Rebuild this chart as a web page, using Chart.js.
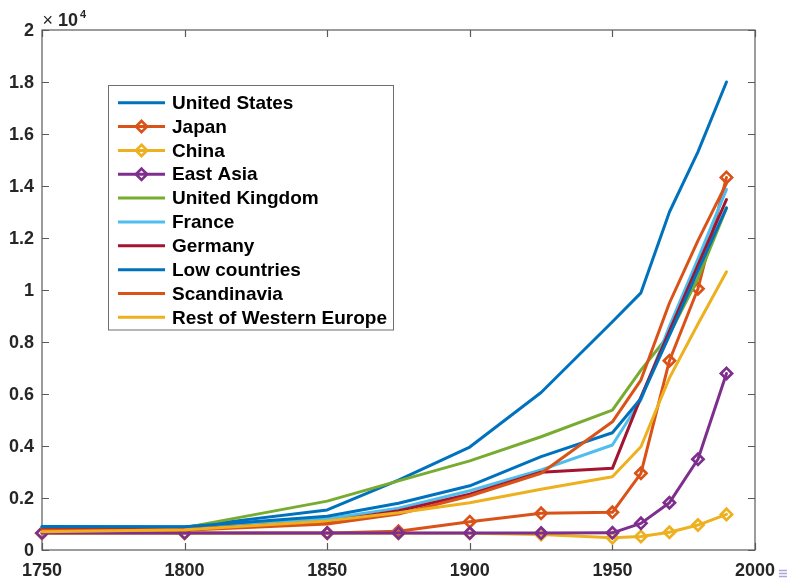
<!DOCTYPE html>
<html>
<head>
<meta charset="utf-8">
<script src="https://cdn.jsdelivr.net/npm/chart.js@4.4.1/dist/chart.umd.min.js"></script>
<style>
  html, body { margin: 0; padding: 0; background: #ffffff; }
  #wrap { width: 789px; height: 579px; position: relative; }
  canvas { display: block; }
</style>
</head>
<body>
<div id="wrap"><canvas id="chart" width="789" height="579"></canvas></div>
<script>
// GDP per capita by region, sampled years
const years = [1750, 1800, 1850, 1875, 1900, 1925, 1950, 1960, 1970, 1980, 1990];

const seriesNames = [
  'United States', 'Japan', 'China', 'East Asia', 'United Kingdom',
  'France', 'Germany', 'Low countries', 'Scandinavia', 'Rest of Western Europe'
];

const unitedStates   = [880, 880, 1540, 2690, 3960, 6060, 8780, 9890, 13000, 15310, 18000];
const japan          = [650, 650, 650, 720, 1090, 1410, 1450, 2950, 7280, 10050, 14330];
const china          = [640, 640, 640, 640, 640, 600, 470, 520, 680, 960, 1370];
const eastAsia       = [650, 650, 650, 650, 650, 650, 660, 1025, 1820, 3490, 6790];
const unitedKingdom  = [840, 860, 1880, 2660, 3430, 4355, 5380, 6920, 8300, 10450, 13150];
const france         = [870, 870, 1200, 1610, 2280, 3080, 4040, 5770, 8600, 11200, 13870];
const germany        = [790, 800, 1090, 1510, 2150, 2990, 3140, 5880, 8420, 10960, 13480];
const lowCountries   = [900, 890, 1300, 1800, 2470, 3590, 4510, 5830, 8250, 10740, 13160];
const scandinavia    = [770, 760, 1000, 1380, 2075, 2950, 4930, 6535, 9500, 11900, 14100];
const restOfWestEur  = [700, 780, 1120, 1430, 1820, 2340, 2820, 3970, 6620, 8690, 10700];

const seriesValues = [
  unitedStates, japan, china, eastAsia, unitedKingdom,
  france, germany, lowCountries, scandinavia, restOfWestEur
];

const xTickLabels = ['1750', '1800', '1850', '1900', '1950', '2000'];
const yTickLabels = ['0', '0.2', '0.4', '0.6', '0.8', '1', '1.2', '1.4', '1.6', '1.8', '2'];

// styling
const lineColors = ['#0072BD', '#D95319', '#EDB120', '#7E2F8E', '#77AC30',
                    '#4DBEEE', '#A2142F', '#0072BD', '#D95319', '#EDB120'];
const withMarkers = [false, true, true, true, false, false, false, false, false, false];

const FONT = '"Liberation Sans", Arial, Helvetica, sans-serif';
const AXIS_COLOR = '#262626';
const LINE_W = 3;
const MARK_R = 5.6;
const MARK_W = 2.7;

const datasets = seriesNames.map((name, i) => ({
  label: name,
  data: years.map((yr, k) => ({ x: yr, y: seriesValues[i][k] })),
  borderColor: lineColors[i],
  backgroundColor: 'rgba(0,0,0,0)',
  borderWidth: LINE_W,
  borderJoinStyle: 'round',
  borderCapStyle: 'round',
  tension: 0,
  pointStyle: 'rectRot',
  pointRadius: withMarkers[i] ? MARK_R : 0,
  pointHoverRadius: withMarkers[i] ? MARK_R : 0,
  pointBorderWidth: MARK_W,
  pointBorderColor: lineColors[i],
  pointBackgroundColor: 'rgba(0,0,0,0)',
  clip: false,
  order: seriesNames.length - i
}));

// box around the axes with inward ticks on all four sides
const axesBox = {
  id: 'axesBox',
  beforeDatasetsDraw(chart) {
    const { ctx, chartArea: a, scales } = chart;
    const tl = 7;
    ctx.save();
    ctx.strokeStyle = '#5a5a5a';
    ctx.lineWidth = 1.2;
    ctx.strokeRect(a.left, a.top, a.right - a.left, a.bottom - a.top);
    ctx.beginPath();
    scales.x.ticks.forEach(t => {
      const px = Math.round(scales.x.getPixelForValue(t.value)) + 0.5;
      ctx.moveTo(px, a.bottom); ctx.lineTo(px, a.bottom - tl);
      ctx.moveTo(px, a.top); ctx.lineTo(px, a.top + tl);
    });
    scales.y.ticks.forEach(t => {
      const py = Math.round(scales.y.getPixelForValue(t.value)) + 0.5;
      ctx.moveTo(a.left, py); ctx.lineTo(a.left + tl, py);
      ctx.moveTo(a.right, py); ctx.lineTo(a.right - tl, py);
    });
    ctx.stroke();
    ctx.restore();
  },
  afterDraw(chart) {
    const { ctx, chartArea: a } = chart;
    ctx.save();
    // exponent label above the y axis
    ctx.fillStyle = AXIS_COLOR;
    ctx.textBaseline = 'alphabetic';
    ctx.textAlign = 'left';
    ctx.font = '18px ' + FONT;
    ctx.fillText('\u00d7', a.left + 0.5, 26);
    ctx.font = 'bold 18px ' + FONT;
    ctx.fillText('10', a.left + 16, 26);
    ctx.font = 'bold 11px ' + FONT;
    ctx.fillText('4', a.left + 38, 17.5);

    // legend
    const bx = 108.5, by = 85.5, bw = 285, bh = 244.5;
    ctx.fillStyle = '#ffffff';
    ctx.fillRect(bx, by, bw, bh);
    ctx.strokeStyle = '#6e6e6e';
    ctx.lineWidth = 1;
    ctx.strokeRect(bx, by, bw, bh);
    const rowY0 = 102.7, rowStep = 23.85;
    chart.data.datasets.forEach((ds, i) => {
      const y = rowY0 + rowStep * i;
      ctx.strokeStyle = ds.borderColor;
      ctx.lineWidth = LINE_W;
      ctx.lineCap = 'butt';
      ctx.beginPath();
      ctx.moveTo(118, y); ctx.lineTo(165, y);
      ctx.stroke();
      if (ds.pointRadius > 0) {
        ctx.lineWidth = ds.pointBorderWidth;
        ctx.beginPath();
        ctx.moveTo(141.5, y - MARK_R);
        ctx.lineTo(141.5 + MARK_R, y);
        ctx.lineTo(141.5, y + MARK_R);
        ctx.lineTo(141.5 - MARK_R, y);
        ctx.closePath();
        ctx.stroke();
      }
      ctx.fillStyle = '#000000';
      ctx.font = 'bold 19px ' + FONT;
      ctx.textBaseline = 'middle';
      ctx.fillText(ds.label, 172, y + 1);
    });

    // small toolbar glyph in the corner
    ctx.strokeStyle = '#a9a6dc';
    ctx.lineWidth = 1.3;
    ctx.beginPath();
    [570.5, 573.5, 576.5].forEach(yy => { ctx.moveTo(779, yy); ctx.lineTo(787, yy); });
    ctx.stroke();
    ctx.restore();
  }
};

new Chart(document.getElementById('chart'), {
  type: 'line',
  data: { datasets },
  options: {
    responsive: false,
    animation: false,
    devicePixelRatio: 1,
    layout: { padding: { left: 0, right: 34, top: 30, bottom: 0 } },
    plugins: { legend: { display: false }, tooltip: { enabled: false } },
    scales: {
      x: {
        type: 'linear',
        min: 1750, max: 2000,
        grid: { display: false, drawTicks: false },
        border: { display: false },
        ticks: {
          stepSize: 50,
          autoSkip: false,
          maxRotation: 0,
          padding: 10,
          color: AXIS_COLOR,
          font: { family: FONT, size: 18, weight: 'bold' },
          callback: (v, i) => xTickLabels[i]
        },
        afterFit: s => { s.height = 29; }
      },
      y: {
        type: 'linear',
        min: 0, max: 20000,
        grid: { display: false, drawTicks: false },
        border: { display: false },
        ticks: {
          stepSize: 2000,
          autoSkip: false,
          padding: 8,
          labelOffset: 1.5,
          color: AXIS_COLOR,
          font: { family: FONT, size: 18, weight: 'bold' },
          callback: (v, i) => yTickLabels[i]
        },
        afterFit: s => { s.width = 42; }
      }
    }
  },
  plugins: [axesBox]
});
</script>
</body>
</html>
